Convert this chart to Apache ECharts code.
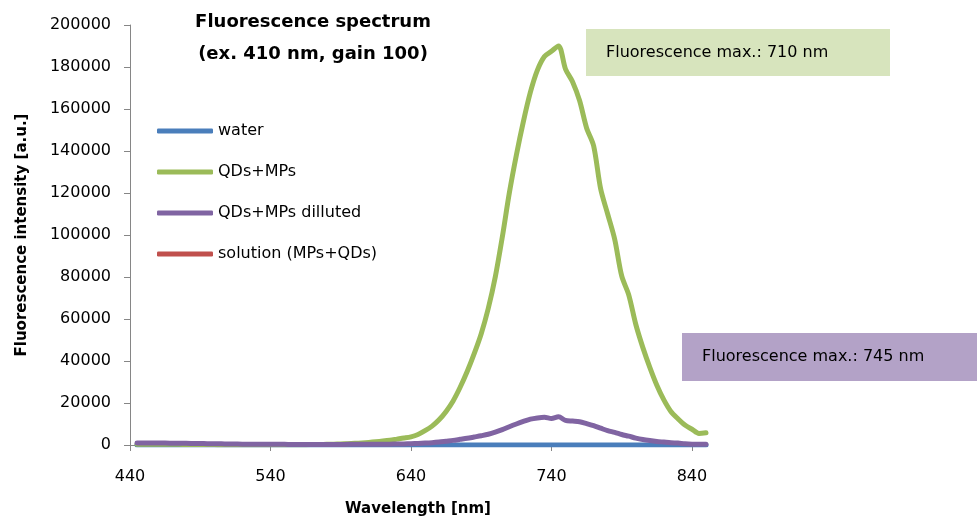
<!DOCTYPE html>
<html>
<head>
<meta charset="utf-8">
<title>Fluorescence spectrum</title>
<script src="https://cdn.jsdelivr.net/npm/echarts@6/dist/echarts.min.js"></script>
<style>
  html, body { margin: 0; padding: 0; background: #fff; }
  #chart { width: 977px; height: 519px; }
</style>
</head>
<body>
<div id="chart"></div>
<script>
// wavelength axis [nm], 5 nm steps
var wavelengths = [
  445, 450, 455, 460, 465, 470, 475, 480, 485, 490,
  495, 500, 505, 510, 515, 520, 525, 530, 535, 540,
  545, 550, 555, 560, 565, 570, 575, 580, 585, 590,
  595, 600, 605, 610, 615, 620, 625, 630, 635, 640,
  645, 650, 655, 660, 665, 670, 675, 680, 685, 690,
  695, 700, 705, 710, 715, 720, 725, 730, 735, 740,
  745, 750, 755, 760, 765, 770, 775, 780, 785, 790,
  795, 800, 805, 810, 815, 820, 825, 830, 835, 840,
  845, 850
];

var water = [
  0, 0, 0, 0, 0, 0, 0, 0, 0, 0,
  0, 0, 0, 0, 0, 0, 0, 0, 0, 0,
  0, 0, 0, 0, 0, 0, 0, 0, 0, 0,
  0, 0, 0, 0, 0, 0, 0, 0, 0, 0,
  0, 0, 0, 0, 0, 0, 0, 0, 0, 0,
  0, 0, 0, 0, 0, 0, 0, 0, 0, 0,
  0, 0, 0, 0, 0, 0, 0, 0, 0, 0,
  0, 0, 0, 0, 0, 0, 0, 0, 0, 0,
  0, 0
];

var qdsMps = [
  400, 400, 350, 350, 300, 300, 300, 250, 250, 200,
  200, 200, 150, 150, 150, 150, 100, 100, 100, 100,
  100, 100, 100, 150, 150, 200, 250, 300, 400, 500,
  650, 800, 1000, 1250, 1550, 1900, 2300, 2800, 3300, 3900,
  5000, 6800, 9000, 12000, 16000, 21000, 27500, 35000, 43500, 53000,
  65000, 80000, 99000, 120000, 138000, 154000, 168000, 178500, 185000, 187500,
  190000, 179000, 173000, 164000, 151000, 142500, 122000, 110000, 98000, 80500,
  71500, 57500, 46500, 37000, 28500, 21500, 16000, 12500, 9500, 7500,
  5500, 5800
];

var qdsMpsDiluted = [
  1000, 950, 950, 900, 900, 850, 800, 800, 750, 700,
  650, 600, 550, 500, 450, 400, 400, 350, 350, 300,
  300, 300, 250, 250, 250, 250, 250, 250, 250, 250,
  300, 300, 300, 300, 350, 350, 400, 450, 500, 600,
  750, 900, 1100, 1400, 1800, 2200, 2700, 3200, 3800, 4400,
  5100, 6100, 7300, 8700, 10000, 11200, 12300, 12900, 13200, 12600,
  13400, 11700, 11400, 11100, 10200, 9200, 8000, 6800, 6000, 5000,
  4200, 3300, 2600, 2100, 1700, 1400, 1100, 900, 600, 400,
  300, 300
];

// not visible in the plotted range, only listed in the legend
var solution = [];

var seriesNames = ["water", "QDs+MPs", "QDs+MPs dilluted", "solution (MPs+QDs)"];
var seriesColors = ["#4a7ebb", "#9bbb59", "#8064a2", "#c0504d"];
var xTicks = [440, 540, 640, 740, 840];

(function () {
  "use strict";

  var FONT = "DejaVu Sans";

  function pairs(ys) {
    return ys.map(function (y, i) { return [wavelengths[i], y]; });
  }

  function lineSeries(idx, ys) {
    return {
      name: seriesNames[idx],
      type: "line",
      data: pairs(ys),
      showSymbol: false,
      symbol: "none",
      smooth: 0.3,
      animation: false,
      lineStyle: { color: seriesColors[idx], width: 5, cap: "round", join: "round" },
      itemStyle: { color: seriesColors[idx] },
    };
  }

  var chart = echarts.init(document.getElementById("chart"), null, { renderer: "canvas" });

  chart.setOption({
    backgroundColor: "#fff",
    animation: false,
    grid: { left: 130, right: 271, top: 25, bottom: 74, outerBoundsMode: "none", containLabel: false },
    legend: {
      orient: "vertical",
      left: 152, top: 118,
      itemWidth: 56, itemHeight: 5, itemGap: 25, itemTextGap: 4,
      icon: "roundRect",
      data: seriesNames,
      textStyle: { fontFamily: FONT, fontSize: 16, color: "#000" },
    },
    xAxis: {
      type: "value",
      min: 440, max: 850,
      name: "Wavelength [nm]", nameLocation: "middle", nameGap: 57,
      nameTextStyle: { fontFamily: FONT, fontSize: 15, fontWeight: "bold", color: "#000" },
      axisLine: { onZero: false, lineStyle: { color: "#868686", width: 1 } },
      axisTick: { show: true, length: 6, customValues: xTicks, lineStyle: { color: "#868686" } },
      axisLabel: { customValues: xTicks, margin: 24, fontFamily: FONT, fontSize: 16, color: "#000" },
      splitLine: { show: false },
    },
    yAxis: {
      type: "value",
      min: 0, max: 200000, interval: 20000,
      name: "Fluorescence intensity [a.u.]", nameLocation: "middle", nameGap: 100,
      nameTextStyle: { fontFamily: FONT, fontSize: 15, fontWeight: "bold", color: "#000" },
      axisLine: { show: true, lineStyle: { color: "#868686", width: 1 } },
      axisTick: { show: true, length: 6, lineStyle: { color: "#868686" } },
      axisLabel: {
        margin: 19, fontFamily: FONT, fontSize: 16, color: "#000",
        formatter: function (v) { return String(v); },
      },
      splitLine: { show: false },
    },
    graphic: [
      {
        type: "text", x: 313, y: 6,
        style: {
          text: "Fluorescence spectrum\n(ex. 410 nm, gain 100)",
          textAlign: "center", fill: "#000", lineHeight: 32,
          font: "bold 18px '" + FONT + "'",
        },
      },
      {
        type: "group", left: 586, top: 29,
        children: [
          { type: "rect", shape: { x: 0, y: 0, width: 304, height: 47 }, style: { fill: "#d7e4bd" } },
          { type: "text", x: 20, y: 23.5, style: { text: "Fluorescence max.: 710 nm", verticalAlign: "middle", fill: "#000", font: "16px '" + FONT + "'" } },
        ],
      },
      {
        type: "group", left: 682, top: 333,
        children: [
          { type: "rect", shape: { x: 0, y: 0, width: 300, height: 48 }, style: { fill: "#b3a2c7" } },
          { type: "text", x: 20, y: 24, style: { text: "Fluorescence max.: 745 nm", verticalAlign: "middle", fill: "#000", font: "16px '" + FONT + "'" } },
        ],
      },
    ],
    series: [
      lineSeries(0, water),
      lineSeries(1, qdsMps),
      lineSeries(2, qdsMpsDiluted),
      lineSeries(3, solution),
    ],
  });
})();
</script>
</body>
</html>
